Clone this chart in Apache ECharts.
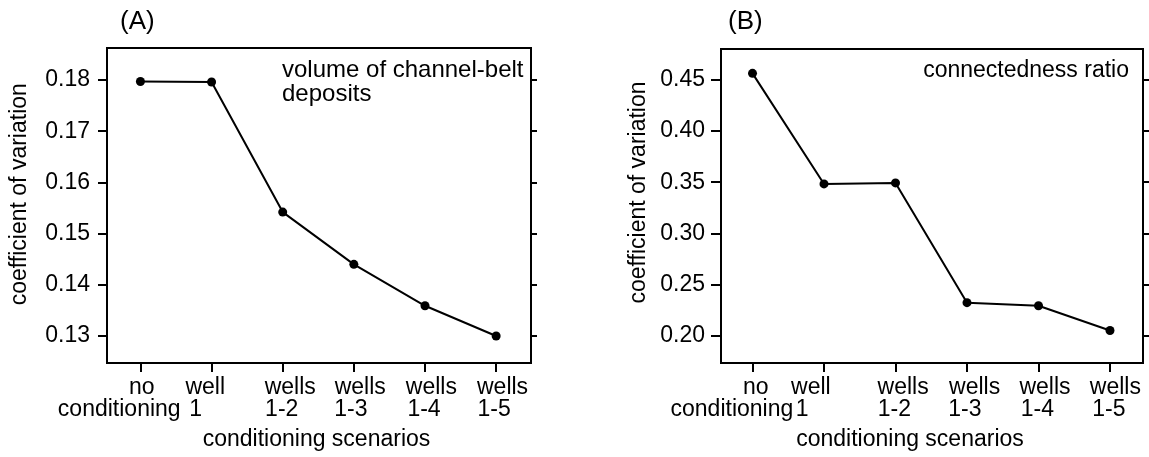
<!DOCTYPE html>
<html><head><meta charset="utf-8">
<script src="https://cdn.jsdelivr.net/npm/echarts@6/dist/echarts.min.js"></script>
<style>html,body{margin:0;padding:0;background:#fff}#c{width:1149px;height:457px}</style>
</head><body><div id="c"></div>
<script>
// ---- data ----
const categoriesLine1 = ['no', 'well', 'wells', 'wells', 'wells', 'wells'];
const categoriesLine2 = ['conditioning', '1', '1-2', '1-3', '1-4', '1-5'];
const volumeCV = [0.1797, 0.1796, 0.1542, 0.1440, 0.1359, 0.1300];
const connectednessCV = [0.4565, 0.3483, 0.3493, 0.2321, 0.2291, 0.2049];
const yTicksA = [0.13, 0.14, 0.15, 0.16, 0.17, 0.18];
const yTicksB = [0.20, 0.25, 0.30, 0.35, 0.40, 0.45];
const xTicks = [0, 1, 2, 3, 4, 5];
const panelTitles = ['(A)', '(B)'];
const panelNotes = ['volume of channel-belt\ndeposits', 'connectedness ratio'];
const xAxisTitle = 'conditioning scenarios';
const yAxisTitle = 'coefficient of variation';

// ---- style / layout ----
const FONT = '"Liberation Sans", Arial, Helvetica, sans-serif';
const FS = 23;
const BLACK = '#000';
const labelShiftA = [[1.3, -21.2], [-6.3, -16], [7.5, -1], [6.4, -3], [6.4, -1], [6.4, -2]];
const labelShiftB = [[3.3, -20.6], [-13.1, -21.8], [7.6, -1.1], [7.6, -2.2], [6.5, -1.1], [5.4, -1.1]];
// label "well 1" sits on its own label layer so the tight first pair is never auto-hidden
const tightLabel = 1;

function pad(d) { return d >= 0 ? [0, 0, 0, 2 * d] : [0, -2 * d, 0, 0]; }
function buildRich(shifts) {
  const rich = {};
  shifts.forEach((s, i) => {
    const base = { fontFamily: FONT, fontSize: FS, color: BLACK, lineHeight: 22.5, align: 'center' };
    rich['a' + i] = Object.assign({}, base, { padding: pad(s[0]) });
    rich['b' + i] = Object.assign({}, base, { padding: pad(s[1]) });
  });
  return rich;
}
function xLabelFormatter(v) {
  const i = Math.round(v);
  return '{a' + i + '|' + categoriesLine1[i] + '}\n{b' + i + '|' + categoriesLine2[i] + '}';
}
const txt = { fontFamily: FONT, fontSize: FS, color: BLACK, fontWeight: 'normal' };

function makeX(gridIndex, min, max, shifts, namePad) {
  return {
    type: 'value', gridIndex, min, max, position: 'bottom', offset: 0,
    axisLine: { show: true, onZero: false, lineStyle: { color: BLACK, width: 2 } },
    axisTick: { show: true, customValues: xTicks, length: 9, inside: false, lineStyle: { color: BLACK, width: 2 } },
    axisLabel: { show: true, customValues: xTicks.filter(t => t !== tightLabel), formatter: xLabelFormatter, margin: 13,
                 rich: buildRich(shifts), showMinLabel: true, showMaxLabel: true, hideOverlap: false,
                 fontFamily: FONT, fontSize: FS, color: BLACK },
    splitLine: { show: false },
    name: xAxisTitle, nameLocation: 'middle', nameGap: 65,
    nameTextStyle: Object.assign({}, txt, { lineHeight: 23, padding: namePad })
  };
}
function makeXLabelLayer(gridIndex, min, max, shifts) {
  return {
    type: 'value', gridIndex, min, max, position: 'bottom', offset: 0,
    axisLine: { show: false, onZero: false },
    axisTick: { show: false },
    axisLabel: { show: true, customValues: [tightLabel], formatter: xLabelFormatter, margin: 13,
                 rich: buildRich(shifts), showMinLabel: true, showMaxLabel: true, hideOverlap: false,
                 fontFamily: FONT, fontSize: FS, color: BLACK },
    splitLine: { show: false }
  };
}
function makeYLeft(gridIndex, min, max, ticks, gap, namePad, tickLen, margin) {
  return {
    type: 'value', gridIndex, min, max, position: 'left',
    axisLine: { show: true, onZero: false, lineStyle: { color: BLACK, width: 2 } },
    axisTick: { show: true, customValues: ticks, length: tickLen, lineStyle: { color: BLACK, width: 2 } },
    axisLabel: { show: true, customValues: ticks, formatter: v => v.toFixed(2), margin,
                 showMinLabel: true, showMaxLabel: true, fontFamily: FONT, fontSize: FS, color: BLACK },
    splitLine: { show: false },
    name: yAxisTitle, nameLocation: 'middle', nameGap: gap,
    nameTextStyle: Object.assign({}, txt, { lineHeight: 23, padding: namePad })
  };
}
function makeYRight(gridIndex, min, max, ticks) {
  return {
    type: 'value', gridIndex, min, max, position: 'right',
    axisLine: { show: false, onZero: false },
    axisTick: { show: true, customValues: ticks, length: 6, lineStyle: { color: BLACK, width: 2 } },
    axisLabel: { show: false },
    splitLine: { show: false }
  };
}
function makeSeries(values, xIdx, yIdx) {
  return {
    type: 'line', xAxisIndex: xIdx, yAxisIndex: yIdx,
    data: values.map((v, i) => [xTicks[i], v]),
    symbol: 'circle', symbolSize: 9,
    lineStyle: { color: BLACK, width: 2 },
    itemStyle: { color: BLACK },
    emphasis: { disabled: true },
    animation: false
  };
}

const xRangeA = [-0.47, 5.49];
const xRangeB = [-0.4406, 5.4615];
const yRangeA = [0.124727, 0.18625];
const yRangeB = [0.17309, 0.48033];

const chart = echarts.init(document.getElementById('c'), null, { renderer: 'canvas' });
chart.setOption({
  backgroundColor: '#fff',
  animation: false,
  title: [
    { text: panelTitles[0], left: 120, top: 9, padding: 0, textStyle: Object.assign({}, txt, { fontSize: 26 }) },
    { text: panelTitles[1], left: 728, top: 9, padding: 0, textStyle: Object.assign({}, txt, { fontSize: 26 }) },
    { text: panelNotes[0], left: 282, top: 59, padding: 0, textStyle: Object.assign({}, txt, { fontSize: 24, lineHeight: 23.3 }) },
    { text: panelNotes[1], right: 20, top: 59, padding: 0, textStyle: Object.assign({}, txt, { lineHeight: 23.3 }) }
  ],
  grid: [
    { left: 107, top: 48, width: 424, height: 315, show: true, borderColor: BLACK, borderWidth: 2, backgroundColor: 'transparent', containLabel: false },
    { left: 721, top: 49, width: 422, height: 314, show: true, borderColor: BLACK, borderWidth: 2, backgroundColor: 'transparent', containLabel: false }
  ],
  xAxis: [
    makeX(0, xRangeA[0], xRangeA[1], labelShiftA, [0, 5, 0, 0]),
    makeXLabelLayer(0, xRangeA[0], xRangeA[1], labelShiftA),
    makeX(1, xRangeB[0], xRangeB[1], labelShiftB, [0, 44, 0, 0]),
    makeXLabelLayer(1, xRangeB[0], xRangeB[1], labelShiftB)
  ],
  yAxis: [
    makeYLeft(0, yRangeA[0], yRangeA[1], yTicksA, 75.6, [0, 0, 0, 22.6], 9, 17),
    makeYRight(0, yRangeA[0], yRangeA[1], yTicksA),
    makeYLeft(1, yRangeB[0], yRangeB[1], yTicksB, 71.2, [0, 0, 0, 27], 10, 16),
    makeYRight(1, yRangeB[0], yRangeB[1], yTicksB)
  ],
  series: [makeSeries(volumeCV, 0, 0), makeSeries(connectednessCV, 2, 2)]
});
</script>
</body></html>
